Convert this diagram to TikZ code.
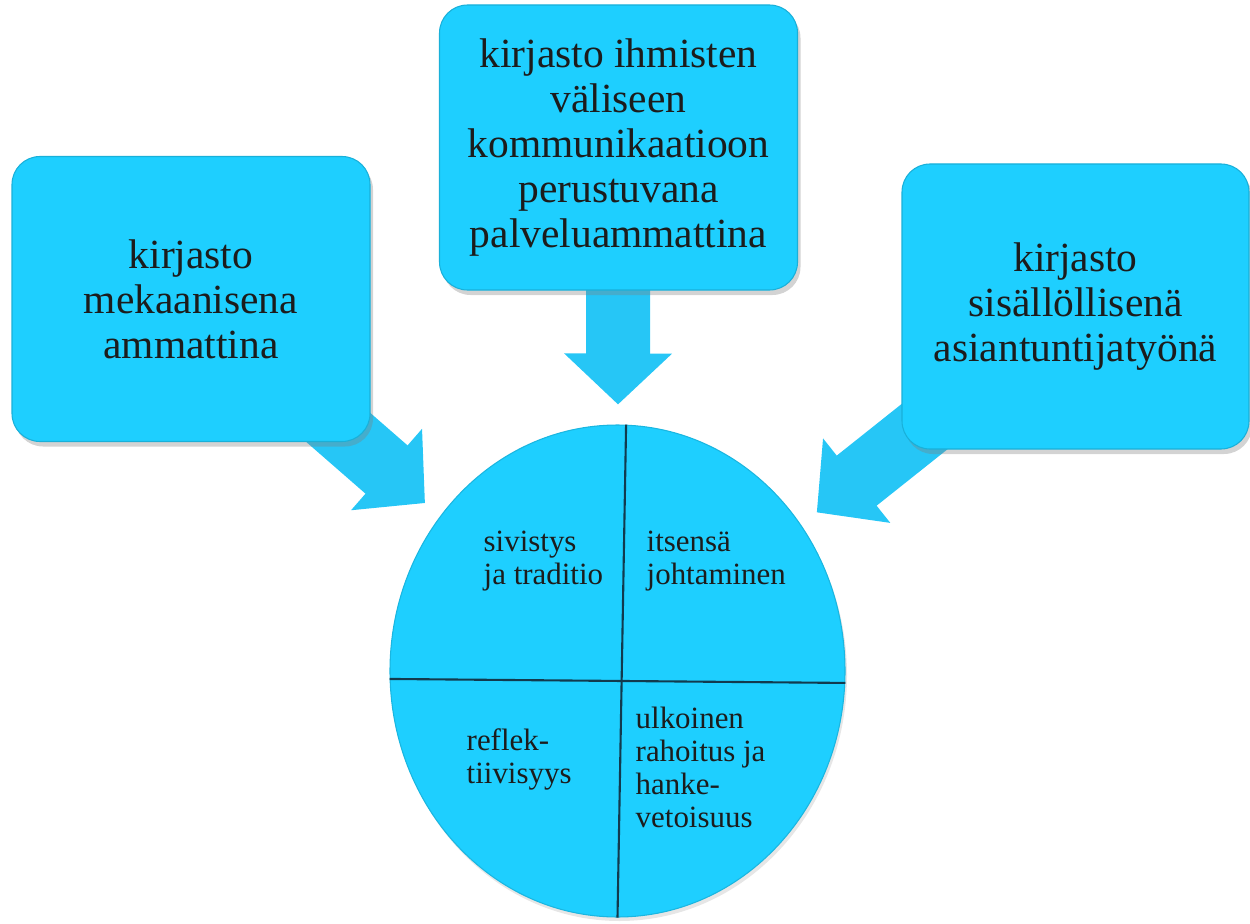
\documentclass[tikz,border=0pt]{standalone}
\usepackage{fontspec}
\setmainfont{Liberation Serif}
\usetikzlibrary{arrows.meta,shapes.geometric,shadows,backgrounds}

\definecolor{boxblue}{RGB}{30,207,255}
\definecolor{arrowblue}{RGB}{38,198,246}
\definecolor{splitline}{RGB}{18,58,78}
\definecolor{inkgrey}{RGB}{28,28,28}

\begin{document}
\begin{tikzpicture}[
    bigbox/.style = {rectangle, rounded corners=0.28cm, fill=boxblue,
        draw=boxblue!85!black, line width=0.3pt,
        minimum width=3.58cm, minimum height=2.85cm, align=center,
        text=inkgrey, font=\fontsize{11.8}{12.8}\selectfont,
        drop shadow={opacity=0.35, shadow xshift=0.03cm, shadow yshift=-0.05cm}},
    bigarrow/.style = {line width=0.64cm, arrowblue,
        -{Triangle[width=1.05cm, length=0.51cm]}, shorten >=0.2cm},
    quarter/.style = {anchor=north west, inner sep=0pt, align=left,
        text=inkgrey, font=\fontsize{8.8}{9.4}\selectfont}
]
\useasboundingbox (0,0) rectangle (12.5,9.23);

\draw (1.91,6.24) node[bigbox](mech){kirjasto\\mekaanisena\\ammattina}
    (6.185,7.755) node[bigbox](comm){kirjasto ihmisten\\väliseen\\kommunikaatioon\\perustuvana\\palveluammattina}
    (10.755,6.165) node[bigbox, minimum width=3.47cm](expert){kirjasto\\sisällöllisenä\\asiantuntijatyönä}
    (6.175,2.52) node[ellipse, fill=boxblue, draw=boxblue!88!black, line width=0.3pt,
        minimum width=4.55cm, minimum height=4.92cm,
        drop shadow={opacity=0.2, shadow xshift=0.02cm, shadow yshift=-0.04cm}](core){};

% arrows behind the boxes
\begin{pgfonlayer}{background}
    \path[bigarrow] (mech.center) edge (core);
    \path[bigarrow] (comm.center) edge (core);
    \path[bigarrow] (expert.center) edge (core);
\end{pgfonlayer}

% four parts of the circle
\draw[splitline, line width=0.6pt] (core.88) -- (core.270);
\draw[splitline, line width=0.6pt] (core.182) -- (core.357);

\node[quarter] (culture) at (4.83,3.93) {sivistys\\ja traditio};
\node[quarter] (selfled) at (6.46,3.93) {itsensä\\johtaminen};
\node[quarter] (reflect) at (4.66,1.95) {reflek-\\tiivisyys};
\node[quarter] (funding) at (6.35,2.17) {ulkoinen\\rahoitus ja\\hanke-\\vetoisuus};

\end{tikzpicture}
\end{document}
